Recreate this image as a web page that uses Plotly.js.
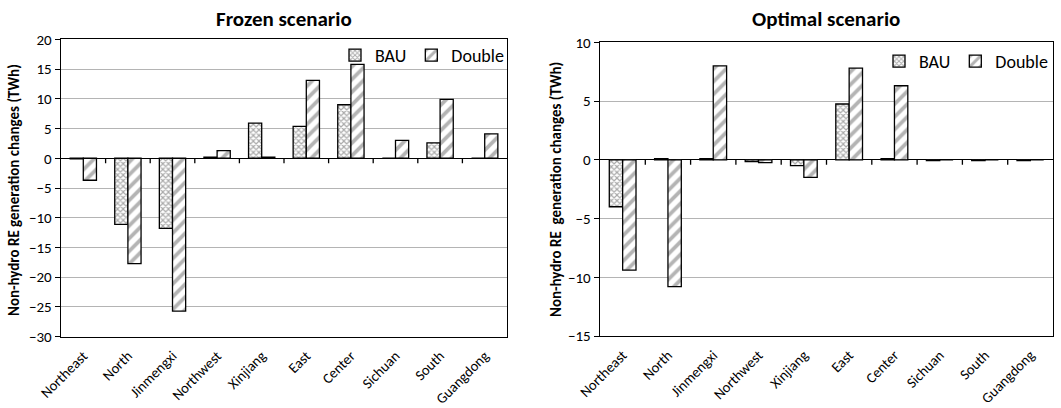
<!DOCTYPE html>
<html>
<head>
<meta charset="utf-8">
<script src="https://cdn.plot.ly/plotly-3.0.1.min.js"></script>
<style>
  html, body { margin: 0; padding: 0; background: #fff; }
  #chart { width: 1061px; height: 408px; }
</style>
</head>
<body>
<div id="chart"></div>
<script>
// ---- Data ----
const categories = ["Northeast", "North", "Jinmengxi", "Northwest", "Xinjiang", "East", "Center", "Sichuan", "South", "Guangdong"];
const seriesNames = ["BAU", "Double"];

const frozenBAU    = [-0.1, -11.1, -11.8, 0.2, 5.9, 5.35, 9.0, 0, 2.6, 0];
const frozenDouble = [-3.7, -17.7, -25.7, 1.3, 0.2, 13.1, 15.8, 3.0, 9.9, 4.1];

const optimalBAU    = [-4.0, 0.1, 0.1, -0.15, -0.5, 4.75, 0.1, -0.08, -0.08, -0.08];
const optimalDouble = [-9.4, -10.8, 8.0, -0.25, -1.5, 7.8, 6.3, 0, 0, 0];

const frozenTicks  = [-30, -25, -20, -15, -10, -5, 0, 5, 10, 15, 20];
const optimalTicks = [-15, -10, -5, 0, 5, 10];

const titles = ["Frozen scenario", "Optimal scenario"];
const yTitles = ["Non-hydro RE generation changes (TWh)", "Non-hydro RE  generation changes (TWh)"];

// ---- Layout geometry ----
const W = 1061, H = 408;
const FONT = "Carlito, Lato, 'Open Sans', sans-serif";
const xDom1 = [61 / W, 507 / W];
const xDom2 = [600 / W, 1053 / W];
const yDom1 = [1 - 336.7 / H, 1 - 39.3 / H];
const yDom2 = [1 - 336 / H, 1 - 42.3 / H];
const range1 = [-30, 20];
const range2 = [-15, 10];
const TICK_PX = 5;

// category boundaries (between neighbouring categories), for Excel-style ticks on the zero line
const boundaries = categories.slice(1).map((_, i) => i + 0.5);
function tickLenUnits(dom, r) { return TICK_PX * (r[1] - r[0]) / ((dom[1] - dom[0]) * H); }

const bauPattern = { shape: "x", size: 4, solidity: 0.5, fgcolor: "#555", bgcolor: "#fff", fillmode: "overlay" };
const dblPattern = { shape: "/", size: 9, solidity: 0.42, fgcolor: "#6a6a6a", bgcolor: "#fff", fillmode: "overlay" };

function barTrace(name, y, pattern, xa, ya, legend) {
  return {
    type: "bar", name: name, x: categories, y: y, xaxis: xa, yaxis: ya, legend: legend,
    marker: { color: "#fff", pattern: pattern, line: { color: "#000", width: 1.3 } },
    hoverinfo: "x+y+name"
  };
}
function tickTrace(xa, ya, dom, r) {
  const len = tickLenUnits(dom, r);
  return {
    type: "scatter", mode: "markers", x: boundaries, y: boundaries.map(() => 0),
    xaxis: xa, yaxis: ya, marker: { size: 1, opacity: 0 },
    error_y: { type: "data", symmetric: false, array: boundaries.map(() => 0),
               arrayminus: boundaries.map(() => len), width: 0, thickness: 1.3, color: "#000" },
    showlegend: false, hoverinfo: "skip"
  };
}

const data = [
  barTrace(seriesNames[0], frozenBAU, bauPattern, "x", "y", "legend"),
  barTrace(seriesNames[1], frozenDouble, dblPattern, "x", "y", "legend"),
  barTrace(seriesNames[0], optimalBAU, bauPattern, "x2", "y2", "legend2"),
  barTrace(seriesNames[1], optimalDouble, dblPattern, "x2", "y2", "legend2"),
  tickTrace("x3", "y", yDom1, range1),
  tickTrace("x4", "y2", yDom2, range2)
];

const xCommon = {
  type: "category", categoryorder: "array", categoryarray: categories,
  range: [-0.5, categories.length - 0.5],
  showline: true, mirror: true, linecolor: "#000", linewidth: 1,
  ticks: "", showgrid: false, zeroline: false,
  tickangle: -45, ticklabelstandoff: 4, tickfont: { family: FONT, size: 14.5, color: "#000" },
  automargin: false, fixedrange: true
};
const yCommon = {
  showline: true, mirror: true, linecolor: "#000", linewidth: 1.4,
  ticks: "outside", ticklen: 5, tickcolor: "#000", tickwidth: 1,
  showgrid: true, gridcolor: "#b4b4b4", gridwidth: 1,
  zeroline: true, zerolinecolor: "#000", zerolinewidth: 1.3,
  tickfont: { family: FONT, size: 15, color: "#000" },
  automargin: false, fixedrange: true
};
const xHelper = {
  type: "linear", range: [-0.5, categories.length - 0.5], visible: false, fixedrange: true
};

const layout = {
  width: W, height: H,
  margin: { l: 0, r: 0, t: 0, b: 0 },
  paper_bgcolor: "#fff", plot_bgcolor: "#fff",
  font: { family: FONT, color: "#000" },
  barmode: "group", bargap: 0.41, bargroupgap: 0,
  showlegend: true,
  xaxis: Object.assign({}, xCommon, { domain: xDom1, anchor: "y" }),
  yaxis: Object.assign({}, yCommon, { domain: yDom1, anchor: "x", range: range1, tickvals: frozenTicks }),
  xaxis2: Object.assign({}, xCommon, { domain: xDom2, anchor: "y2" }),
  yaxis2: Object.assign({}, yCommon, { domain: yDom2, anchor: "x2", range: range2, tickvals: optimalTicks }),
  xaxis3: Object.assign({}, xHelper, { overlaying: "x", anchor: "y" }),
  xaxis4: Object.assign({}, xHelper, { overlaying: "x2", anchor: "y2" }),
  legend: {
    orientation: "h", x: 509 / W, xanchor: "right", y: 1 - 37 / H, yanchor: "top",
    bgcolor: "rgba(0,0,0,0)", font: { family: FONT, size: 18, color: "#000" },
    itemwidth: 30, traceorder: "normal", tracegroupgap: 0
  },
  legend2: {
    orientation: "h", x: 1053 / W, xanchor: "right", y: 1 - 43 / H, yanchor: "top",
    bgcolor: "rgba(0,0,0,0)", font: { family: FONT, size: 18, color: "#000" },
    itemwidth: 30, traceorder: "normal", tracegroupgap: 0
  },
  annotations: [
    { text: "<b>" + titles[0] + "</b>", xref: "paper", yref: "paper", x: 284 / W, y: 1 - 19 / H,
      xanchor: "center", yanchor: "middle", showarrow: false, font: { family: FONT, size: 21, color: "#000" } },
    { text: "<b>" + titles[1] + "</b>", xref: "paper", yref: "paper", x: 826 / W, y: 1 - 19 / H,
      xanchor: "center", yanchor: "middle", showarrow: false, font: { family: FONT, size: 21, color: "#000" } },
    { text: "<b>" + yTitles[0] + "</b>", xref: "paper", yref: "paper", x: 14 / W, y: 1 - 190 / H,
      xanchor: "center", yanchor: "middle", textangle: -90, showarrow: false, font: { family: FONT, size: 15, color: "#000" } },
    { text: "<b>" + yTitles[1] + "</b>", xref: "paper", yref: "paper", x: 556 / W, y: 1 - 190 / H,
      xanchor: "center", yanchor: "middle", textangle: -90, showarrow: false, font: { family: FONT, size: 15, color: "#000" } }
  ]
};

Plotly.newPlot("chart", data, layout, { displayModeBar: false, staticPlot: true });
</script>
</body>
</html>
